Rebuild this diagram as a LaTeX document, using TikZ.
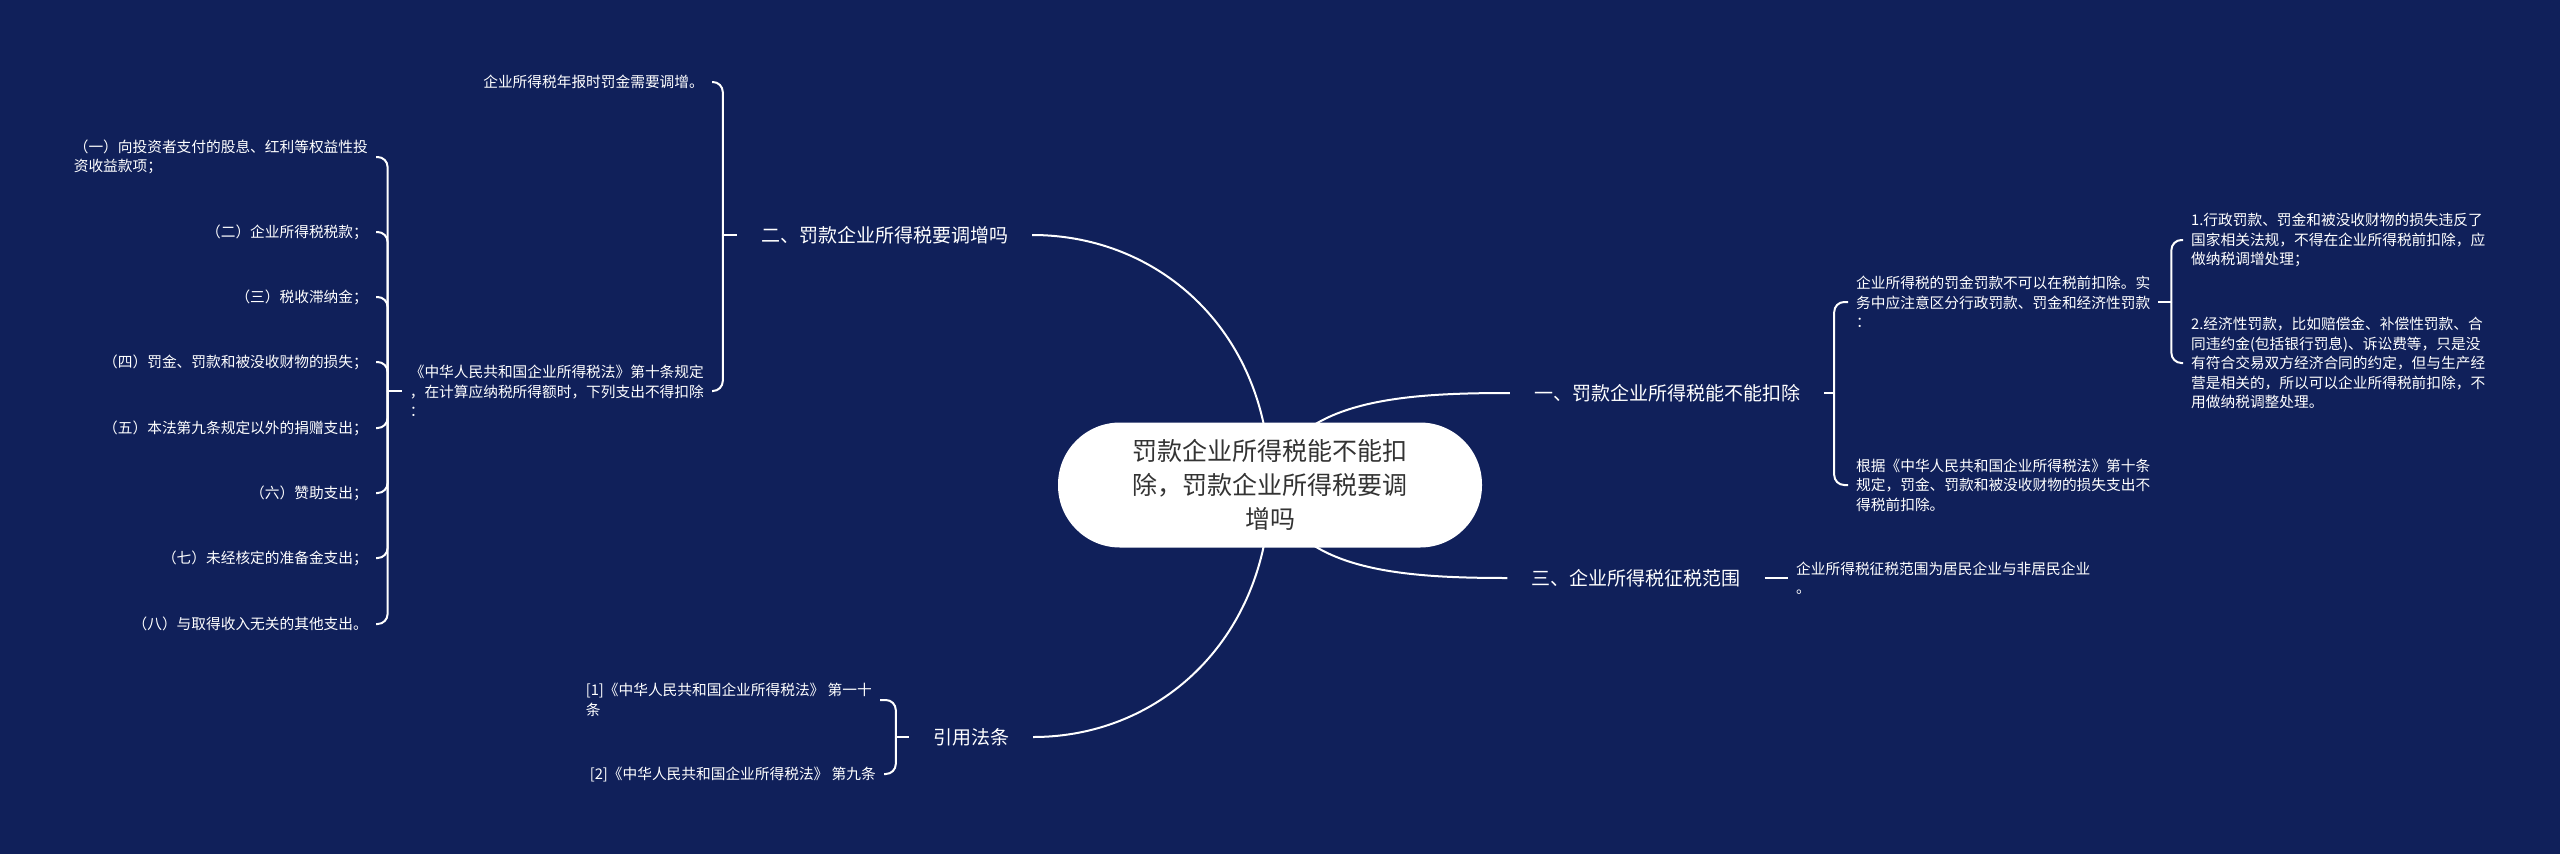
\documentclass[tikz,border=0pt]{standalone}
\usepackage{fontspec}
\setmainfont{Noto Sans CJK SC}
\definecolor{bgnavy}{HTML}{10205A}
\definecolor{ctrtext}{HTML}{333333}
\pgfdeclarelayer{back}
\pgfsetlayers{back,main}
\begin{document}
\begin{tikzpicture}[x=1pt,y=-1pt,
  conn/.style={draw=white,line width=2pt},
  br/.style={conn,rounded corners=10pt},
  ctrnode/.style={fill=white,rounded corners=62pt,minimum width=424pt,minimum height=125pt,text=ctrtext,font=\fontsize{25}{34}\selectfont,align=center,inner sep=0pt},
  mainnode/.style={text=white,font=\fontsize{19}{24}\selectfont,inner xsep=24pt,inner ysep=4pt},
  leaf/.style={text=white,font=\fontsize{14.7}{19.5}\selectfont,inner xsep=8pt,inner ysep=3pt,align=left},
]
\useasboundingbox (0,0) rectangle (2560,854);

% centre
\node[ctrnode] (ctr) at (1270,485) {罚款企业所得税能不能扣\\除，罚款企业所得税要调\\增吗};

% main branches
\node[mainnode] (b1) at (1667,393) {一、罚款企业所得税能不能扣除};
\node[mainnode] (b2) at (884.5,235) {二、罚款企业所得税要调增吗};
\node[mainnode] (b3) at (1636,578) {三、企业所得税征税范围};
\node[mainnode] (b4) at (971,737) {引用法条};

% branch 1 leaves
\node[leaf,anchor=west] (c11) at (1848,302) {企业所得税的罚金罚款不可以在税前扣除。实\\务中应注意区分行政罚款、罚金和经济性罚款\\：};
\node[leaf,anchor=west] (c12) at (1848,485) {根据《中华人民共和国企业所得税法》第十条\\规定，罚金、罚款和被没收财物的损失支出不\\得税前扣除。};
\node[leaf,anchor=west] (d1) at (2183,240) {1.行政罚款、罚金和被没收财物的损失违反了\\国家相关法规，不得在企业所得税前扣除，应\\做纳税调增处理；};
\node[leaf,anchor=west] (d2) at (2183,363) {2.经济性罚款，比如赔偿金、补偿性罚款、合\\同违约金(包括银行罚息)、诉讼费等，只是没\\有符合交易双方经济合同的约定，但与生产经\\营是相关的，所以可以企业所得税前扣除，不\\用做纳税调整处理。};

% branch 3 leaf
\node[leaf,anchor=west] (c31) at (1788,578) {企业所得税征税范围为居民企业与非居民企业\\。};

% branch 2 leaves
\node[leaf,anchor=east] (c21) at (712,82) {企业所得税年报时罚金需要调增。};
\node[leaf,anchor=east] (c22) at (712,391) {《中华人民共和国企业所得税法》第十条规定\\，在计算应纳税所得额时，下列支出不得扣除\\：};
\node[leaf,anchor=east] (i1) at (376,157) {（一）向投资者支付的股息、红利等权益性投\\资收益款项；};
\node[leaf,anchor=east] (i2) at (376,232) {（二）企业所得税税款；};
\node[leaf,anchor=east] (i3) at (376,297) {（三）税收滞纳金；};
\node[leaf,anchor=east] (i4) at (376,362) {（四）罚金、罚款和被没收财物的损失；};
\node[leaf,anchor=east] (i5) at (376,428) {（五）本法第九条规定以外的捐赠支出；};
\node[leaf,anchor=east] (i6) at (376,493) {（六）赞助支出；};
\node[leaf,anchor=east] (i7) at (376,558) {（七）未经核定的准备金支出；};
\node[leaf,anchor=east] (i8) at (376,624) {（八）与取得收入无关的其他支出。};

% branch 4 leaves
\node[leaf,anchor=east] (e1) at (880,700) {[1]《中华人民共和国企业所得税法》 第一十\\条};
\node[leaf,anchor=east] (e2) at (884,774) {[2]《中华人民共和国企业所得税法》 第九条};

\begin{pgfonlayer}{back}
\fill[bgnavy] (0,0) rectangle (2560,854);
% main curves
\draw[conn] (ctr.center) .. controls +(20,-85) and +(-110,0) .. (b1.west);
\draw[conn] (ctr.center) .. controls +(20,85) and +(-110,0) .. (b3.west);
\draw[conn] (ctr.center) .. controls +(0,-150) and +(130,0) .. (b2.east);
\draw[conn] (ctr.center) .. controls +(0,150) and +(130,0) .. (b4.east);
% branch 1
\draw[conn] (b1.east) -- ++(10,0) coordinate (k1);
\draw[br] (k1) |- (c11.west);
\draw[br] (k1) |- (c12.west);
\draw[conn] (c11.east) -- ++(13,0) coordinate (k11);
\draw[br] (k11) |- (d1.west);
\draw[br] (k11) |- (d2.west);
% branch 3
\draw[conn] (b3.east) -- (c31.west);
% branch 2
\draw[conn] (b2.west) -- ++(-14,0) coordinate (k2);
\draw[br] (k2) |- (c21.east);
\draw[br] (k2) |- (c22.east);
\draw[conn] (c22.west) -- ++(-14,0) coordinate (k22);
\foreach \n in {i1,i2,i3,i4,i5,i6,i7,i8}{
  \draw[br] (k22) |- (\n.east);
}
% branch 4
\draw[conn] (b4.west) -- ++(-13,0) coordinate (k4);
\draw[br] (k4) |- (e1.east);
\draw[br] (k4) |- (e2.east);
\end{pgfonlayer}
\end{tikzpicture}
\end{document}
